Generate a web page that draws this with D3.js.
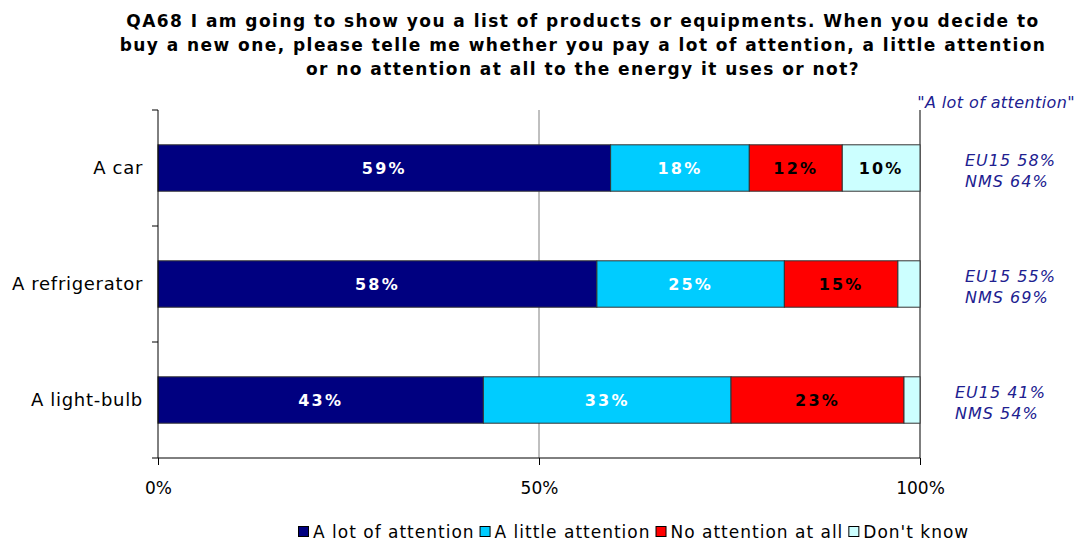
<!DOCTYPE html>
<html>
<head>
<meta charset="utf-8">
<script src="https://cdn.jsdelivr.net/npm/d3@7/dist/d3.min.js"></script>
<style>
  body { margin: 0; background: #fff; }
  svg { display: block; font-family: "DejaVu Sans", Verdana, sans-serif; }
</style>
</head>
<body>
<svg id="chart" width="1076" height="542"></svg>
<script>
// Survey answers per product (percent of respondents)
const categories = ["A car", "A refrigerator", "A light-bulb"];
const seriesNames = ["A lot of attention", "A little attention", "No attention at all", "Don't know"];
const lotOfAttention = [59.4, 57.6, 42.7];
const littleAttention = [18.2, 24.6, 32.5];
const noAttention = [12.2, 14.9, 22.7];
const dontKnow = [10.2, 2.9, 2.1];
const eu15 = ["EU15 58%", "EU15 55%", "EU15 41%"];
const nms = ["NMS 64%", "NMS 69%", "NMS 54%"];
const xTicks = [0, 50, 100];
const titleLines = [
  "QA68 I am going to show you a list of products or equipments. When you decide to",
  "buy a new one, please telle me whether you pay a lot of attention, a little attention",
  "or no attention at all to the energy it uses or not?"
];
const sideHeader = "\"A lot of attention\"";

const colors = ["#000080", "#00CCFF", "#FF0000", "#CCFFFF"];
const labelColors = ["#ffffff", "#ffffff", "#000000", "#000000"];

const svg = d3.select("#chart");
const margin = { left: 158, right: 156, top: 110, bottom: 84 };
const W = 1076, H = 542;
const x = d3.scaleLinear().domain([0, 100]).range([margin.left, W - margin.right]);
const y = d3.scaleBand().domain(categories).range([margin.top, H - margin.bottom]).paddingInner(0.6).paddingOuter(0.3);

const rows = categories.map((c, i) => ({
  category: c,
  values: [lotOfAttention[i], littleAttention[i], noAttention[i], dontKnow[i]]
}));
const stack = d3.stack().keys([0, 1, 2, 3]).value((d, k) => d.values[k]);
const layers = stack(rows);

// Title
svg.append("g").selectAll("text").data(titleLines).join("text")
  .attr("x", 583).attr("y", (d, i) => 27 + i * 24)
  .attr("text-anchor", "middle")
  .attr("font-weight", "bold").attr("font-size", 17)
  .attr("letter-spacing", 1.45)
  .attr("fill", "#000")
  .text(d => d);

// Gridlines
svg.append("line").attr("x1", x(50)).attr("x2", x(50))
  .attr("y1", margin.top).attr("y2", H - margin.bottom)
  .attr("stroke", "#808080").attr("stroke-width", 1);
svg.append("line").attr("x1", x(100)).attr("x2", x(100))
  .attr("y1", margin.top).attr("y2", H - margin.bottom)
  .attr("stroke", "#000").attr("stroke-width", 1);

// Bars
const layerG = svg.append("g").selectAll("g").data(layers).join("g")
  .attr("fill", d => colors[d.key]);
layerG.selectAll("rect").data(d => d).join("rect")
  .attr("x", d => x(d[0]))
  .attr("width", d => x(d[1]) - x(d[0]))
  .attr("y", d => y(d.data.category))
  .attr("height", y.bandwidth())
  .attr("stroke", "#333").attr("stroke-width", 1);

// Segment value labels
layerG.selectAll("text").data(d => d.map(s => ({ s, key: d.key }))).join("text")
  .filter(d => d.s[1] - d.s[0] >= 5)
  .attr("x", d => (x(d.s[0]) + x(d.s[1])) / 2)
  .attr("y", d => y(d.s.data.category) + y.bandwidth() / 2 + 6)
  .attr("text-anchor", "middle")
  .attr("font-weight", "bold").attr("font-size", 16)
  .attr("letter-spacing", 2.2)
  .attr("fill", d => labelColors[d.key])
  .text(d => Math.round(d.s[1] - d.s[0]) + "%");

// Y axis
const yAxisTicks = [margin.top, margin.top + (H - margin.bottom - margin.top) / 3,
  margin.top + 2 * (H - margin.bottom - margin.top) / 3];
svg.append("line").attr("x1", x(0)).attr("x2", x(0))
  .attr("y1", margin.top).attr("y2", H - margin.bottom)
  .attr("stroke", "#000");
svg.append("g").selectAll("line").data(yAxisTicks).join("line")
  .attr("x1", x(0) - 6).attr("x2", x(0)).attr("y1", d => d).attr("y2", d => d)
  .attr("stroke", "#000");
svg.append("g").selectAll("text").data(categories).join("text")
  .attr("x", 143).attr("y", d => y(d) + y.bandwidth() / 2 + 6)
  .attr("text-anchor", "end").attr("font-size", 18).attr("letter-spacing", 0.7).attr("fill", "#000")
  .text(d => d);

// X axis
const xAxis = d3.axisBottom(x).tickValues(xTicks).tickFormat(d => d + "%").tickSize(7).tickSizeOuter(0);
const xg = svg.append("g").attr("transform", `translate(0,${H - margin.bottom})`).call(xAxis);
xg.select(".domain").attr("stroke", "#000").attr("d", `M${x(0) - 6},0H${x(100)}`);
xg.selectAll(".tick line").attr("stroke", "#000");
xg.selectAll(".tick text").attr("font-size", 17).attr("font-family", "DejaVu Sans, Verdana, sans-serif")
  .attr("fill", "#000").attr("dy", "0").attr("y", 36);

// Side annotations
const annColor = "#202090";
svg.append("text").attr("x", 1075).attr("y", 108).attr("text-anchor", "end")
  .attr("font-style", "italic").attr("font-size", 16).attr("letter-spacing", 0.4)
  .attr("fill", annColor).text(sideHeader);
const annX = [965, 965, 955];
const ann = svg.append("g").selectAll("g").data(categories).join("g");
ann.append("text").attr("x", (d, i) => annX[i]).attr("y", d => y(d) + y.bandwidth() / 2 - 2)
  .attr("font-style", "italic").attr("font-size", 16).attr("letter-spacing", 1)
  .attr("fill", annColor).text((d, i) => eu15[i]);
ann.append("text").attr("x", (d, i) => annX[i]).attr("y", d => y(d) + y.bandwidth() / 2 + 19)
  .attr("font-style", "italic").attr("font-size", 16).attr("letter-spacing", 1)
  .attr("fill", annColor).text((d, i) => nms[i]);

// Legend
const legend = svg.append("g").attr("transform", "translate(298,0)");
let lx = 0;
seriesNames.forEach((name, i) => {
  legend.append("rect").attr("x", lx + 0.5).attr("y", 526.5).attr("width", 10).attr("height", 10)
    .attr("fill", colors[i]).attr("stroke", "#000");
  const t = legend.append("text").attr("x", lx + 15).attr("y", 538)
    .attr("font-size", 17).attr("letter-spacing", 1).attr("fill", "#000").text(name);
  lx += 15 + t.node().getComputedTextLength() + 5;
});
</script>
</body>
</html>
